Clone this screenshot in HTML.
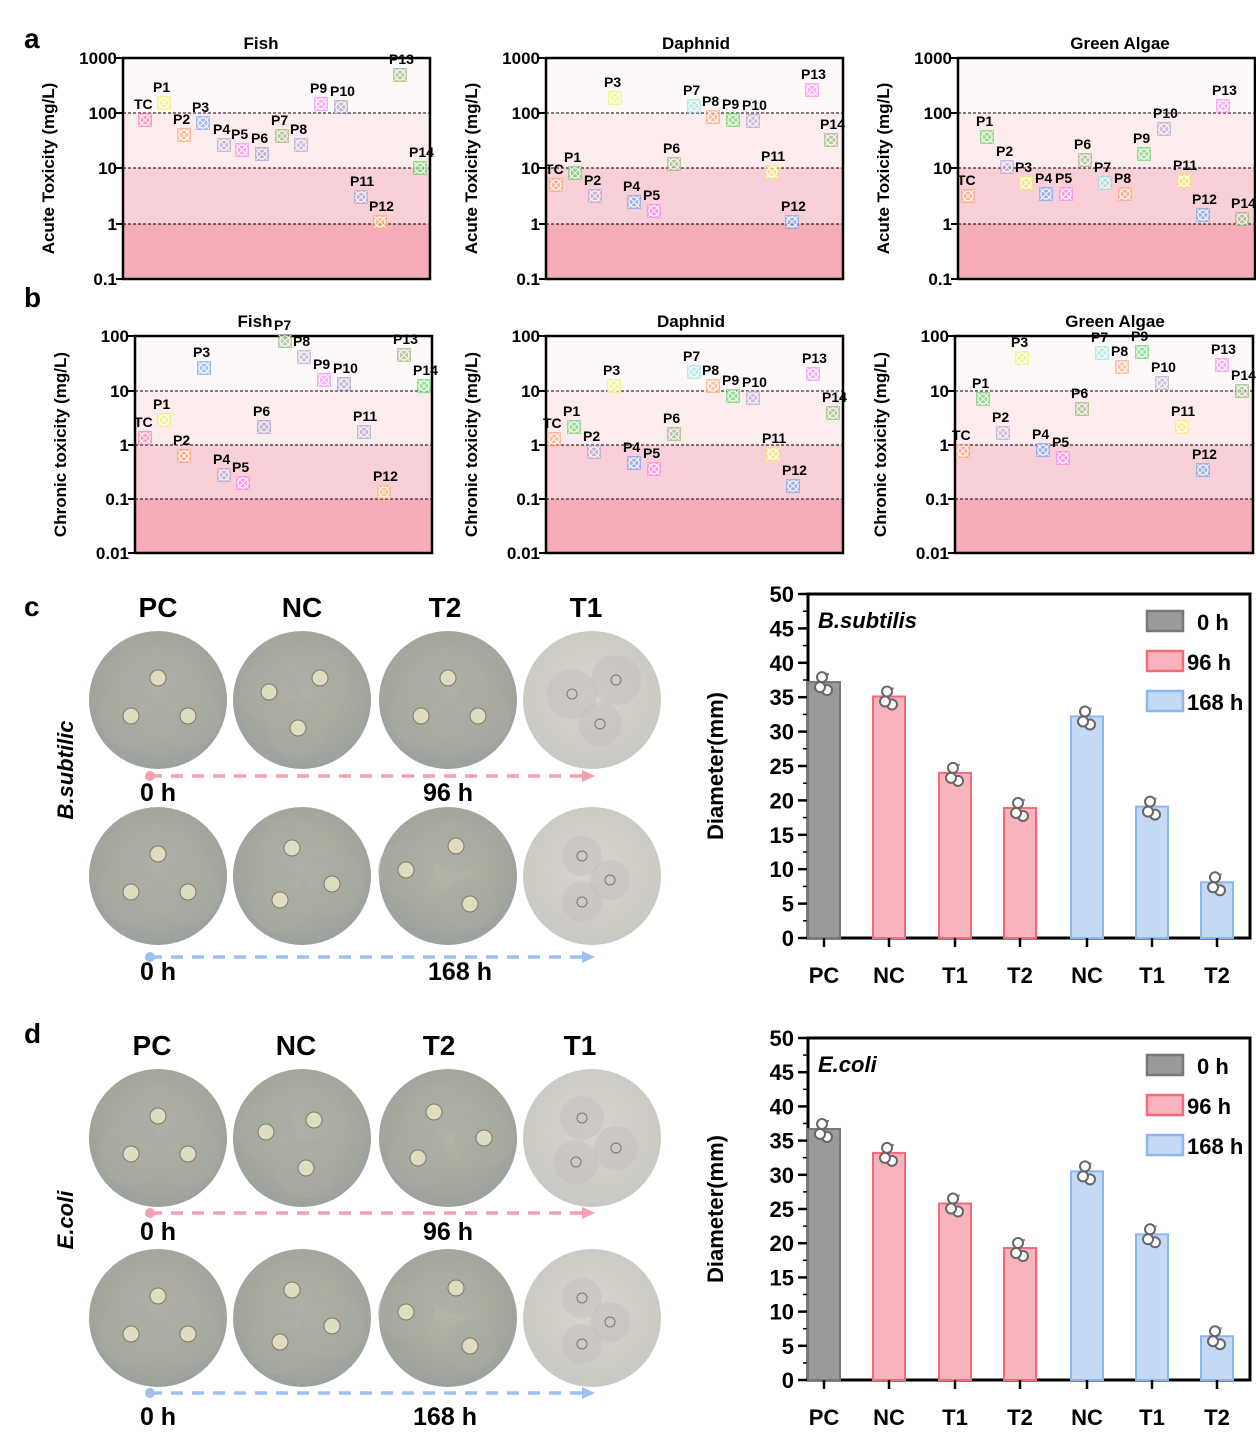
<!DOCTYPE html><html><head><meta charset="utf-8"><style>body{margin:0;background:#fff}svg{display:block;font-family:"Liberation Sans",sans-serif}</style></head><body>
<svg id="s" width="1256" height="1454" xmlns="http://www.w3.org/2000/svg">
<defs>
<radialGradient id="pg" cx="50%" cy="45%" r="55%"><stop offset="0" stop-color="#b4b5a8"/><stop offset="0.8" stop-color="#a3a69b"/><stop offset="1" stop-color="#9aa29e"/></radialGradient>
<radialGradient id="pl" cx="50%" cy="45%" r="55%"><stop offset="0" stop-color="#d8d4cc"/><stop offset="1" stop-color="#c9c8c2"/></radialGradient>
</defs>
</svg>
<script>
const S=document.getElementById('s');let h='';
const C={TC:'#f6a',P1:'#ee5',P2:'#f96',P3:'#69e',P4:'#a9c',P5:'#f7e',P6:'#98b',P7:'#8a6',P8:'#a9c',P9:'#f7e',P10:'#98b',P11:'#99c',P12:'#fa5',P13:'#8a6',P14:'#5c5'};
const CD={TC:'#f96',P1:'#5c5',P2:'#a9c',P3:'#ee5',P4:'#69e',P5:'#f7e',P6:'#8a6',P7:'#8dd',P8:'#f96',P9:'#5c5',P10:'#a9c',P11:'#ee5',P12:'#69e',P13:'#f7e',P14:'#8a6'};
const CG=CD;
const names=['TC','P1','P2','P3','P4','P5','P6','P7','P8','P9','P10','P11','P12','P13','P14'];
function T(x,y,t,s,a,extra){h+=`<text x="${x}" y="${y}" font-size="${s}" font-weight="bold" text-anchor="${a||'start'}" ${extra||''}>${t}</text>`;}
function panel(x0,x1,ys,labs,title,tx,ylab,pts,cols){
 const y0=ys[0],y1=ys[ys.length-1];
 const bc=['#fdf9f8','#fdecee','#f9d0d7','#f6adb9'];
 for(let i=0;i<4;i++)h+=`<rect x="${x0}" y="${ys[i]}" width="${x1-x0}" height="${ys[i+1]-ys[i]}" fill="${bc[i]}"/>`;
 for(let i=1;i<4;i++)h+=`<line x1="${x0}" x2="${x1}" y1="${ys[i]}" y2="${ys[i]}" stroke="#000" stroke-dasharray="3,2" stroke-width="1"/>`;
 h+=`<rect x="${x0}" y="${y0}" width="${x1-x0}" height="${y1-y0}" fill="none" stroke="#000" stroke-width="2.5"/>`;
 ys.forEach((y,i)=>{h+=`<line x1="${x0-7}" x2="${x0}" y1="${y}" y2="${y}" stroke="#000" stroke-width="2"/>`;T(x0-6,y+6,labs[i],17,'end');});
 T(tx,y0-9,title,17,'middle');
 const cy=(y0+y1)/2;T(0,0,ylab,17,'middle',`transform="translate(${x0-69},${cy}) rotate(-90)"`);
 pts.forEach((p,i)=>{const c=cols[names[i]];const [x,y]=p;
  h+=`<rect x="${x-7}" y="${y-7}" width="14" height="14" fill="${c}" opacity="0.6"/><circle cx="${x}" cy="${y}" r="5" fill="none" stroke="#fff" stroke-width="1.5" opacity="0.8"/><path d="M${x-6} ${y-6}L${x+6} ${y+6}M${x+6} ${y-6}L${x-6} ${y+6}" stroke="#fff" stroke-width="1.2" opacity="0.8"/>`;
  T(x-11,y-11,names[i],14,'start');});
}
const ya=[58,113,168,224,279],la=['1000','100','10','1','0.1'];
const yb=[336,391,445,499,553],lb=['100','10','1','0.1','0.01'];
panel(123,430,ya,la,'Fish',261,'Acute Toxicity (mg/L)',[[145,120],[164,103],[184,135],[203,123],[224,145],[242,150],[262,154],[282,136],[301,145],[321,104],[341,107],[361,197],[380,222],[400,75],[420,168]],C);
panel(546,843,ya,la,'Daphnid',696,'Acute Toxicity (mg/L)',[[556,185],[575,173],[595,196],[615,98],[634,202],[654,211],[674,164],[694,106],[713,117],[733,120],[753,121],[772,172],[792,222],[812,90],[831,140]],CD);
panel(958,1255,ya,la,'Green Algae',1120,'Acute Toxicity (mg/L)',[[968,196],[987,137],[1007,167],[1026,183],[1046,194],[1066,194],[1085,160],[1105,183],[1125,194],[1144,154],[1164,129],[1184,181],[1203,215],[1223,106],[1242,219]],CG);
panel(135,432,yb,lb,'Fish',255,'Chronic toxicity (mg/L)',[[145,438],[164,420],[184,456],[204,368],[224,475],[243,483],[264,427],[285,341],[304,357],[324,380],[344,384],[364,432],[384,492],[404,355],[424,386]],C);
panel(546,843,yb,lb,'Daphnid',691,'Chronic toxicity (mg/L)',[[554,439],[574,427],[594,452],[614,386],[634,463],[654,469],[674,434],[694,372],[713,386],[733,396],[753,398],[773,454],[793,486],[813,374],[833,413]],CD);
panel(955,1253,yb,lb,'Green Algae',1115,'Chronic toxicity (mg/L)',[[963,451],[983,399],[1003,433],[1022,358],[1043,450],[1063,458],[1082,409],[1102,353],[1122,367],[1142,352],[1162,383],[1182,427],[1203,470],[1222,365],[1242,391]],CG);
T(24,48,'a',28);T(24,307,'b',28);T(24,616,'c',28);T(24,1043,'d',28);
function plate(cx,cy,light,zones){h+=`<ellipse cx="${cx}" cy="${cy}" rx="69" ry="69" fill="url(#${light?'pl':'pg'})"/>`;
 zones.forEach(z=>{h+=`<circle cx="${cx+z[0]}" cy="${cy+z[1]}" r="${z[2]}" fill="${light?'#c4bfc0':'#a9aca2'}" opacity="0.55"/><circle cx="${cx+z[0]}" cy="${cy+z[1]}" r="${light?5:8}" fill="${light?'#cfcaca':'#e0dcc0'}" stroke="#7a7a6a" stroke-width="1"/>`});}
const zA=[[0,-22,30],[-27,16,32],[30,16,32]];
function rowPlates(y,zs){[158,302,448,592].forEach((x,i)=>plate(x,y,i==3,zs[i]));}
rowPlates(700,[zA,[[18,-22,30],[-33,-8,30],[-4,28,30]],zA,[[24,-20,25],[-20,-6,25],[8,24,22]]]);
rowPlates(876,[zA,[[-10,-28,30],[30,8,32],[-22,24,32]],[[8,-30,26],[-42,-6,28],[22,28,26]],[[-10,-20,20],[18,4,20],[-10,26,20]]]);
rowPlates(1138,[zA,[[12,-18,32],[-36,-6,30],[4,30,30]],[[-14,-26,28],[-30,20,30],[36,0,30]],[[-10,-20,22],[24,10,22],[-16,24,22]]]);
rowPlates(1318,[zA,[[-10,-28,30],[30,8,32],[-22,24,32]],[[8,-30,26],[-42,-6,28],[22,28,26]],[[-10,-20,20],[18,4,20],[-10,26,20]]]);
[['PC',158],['NC',302],['T2',445],['T1',586]].forEach(a=>{T(a[1],617,a[0],28,'middle');T(a[1]-6,1055,a[0],28,'middle');});
function arrow(y,c){h+=`<circle cx="150" cy="${y}" r="5" fill="${c}"/><line x1="150" x2="582" y1="${y}" y2="${y}" stroke="${c}" stroke-width="3.5" stroke-dasharray="12,9"/><path d="M582 ${y-6}L595 ${y}L582 ${y+6}Z" fill="${c}"/>`;}
arrow(776,'#f4a0b0');arrow(957,'#9fc0ee');arrow(1213,'#f4a0b0');arrow(1393,'#9fc0ee');
T(158,801,'0 h',25,'middle');T(448,801,'96 h',25,'middle');T(158,980,'0 h',25,'middle');T(460,980,'168 h',25,'middle');
T(158,1240,'0 h',25,'middle');T(448,1240,'96 h',25,'middle');T(158,1425,'0 h',25,'middle');T(445,1425,'168 h',25,'middle');
T(0,0,'B.subtilic',22,'middle','font-style="italic" transform="translate(73,770) rotate(-90)"');
T(0,0,'E.coli',22,'middle','font-style="italic" transform="translate(73,1220) rotate(-90)"');
function bars(y0,y50,vals,title){const x0=808,x1=1250,sc=(y0-y50)/50;
 h+=`<rect x="${x0}" y="${y50}" width="${x1-x0}" height="${y0-y50}" fill="none" stroke="#000" stroke-width="3"/>`;
 for(let v=0;v<=50;v+=5){const y=y0-v*sc;h+=`<line x1="${x0-10}" x2="${x0}" y1="${y}" y2="${y}" stroke="#000" stroke-width="2.5"/>`;T(x0-14,y+8,v,22,'end');
  if(v<50)h+=`<line x1="${x0-5}" x2="${x0}" y1="${y-2.5*sc}" y2="${y-2.5*sc}" stroke="#000" stroke-width="1.5"/>`;}
 T(0,0,'Diameter(mm)',22,'middle',`transform="translate(723,${(y0+y50)/2}) rotate(-90)"`);
 T(x0+10,y50+34,title,22,'start','font-style="italic"');
 const xs=[824,889,955,1020,1087,1152,1217],lab=['PC','NC','T1','T2','NC','T1','T2'];
 const fc=['#9a9a9a','#f7b3be','#f7b3be','#f7b3be','#c3d9f6','#c3d9f6','#c3d9f6'],sc2=['#777','#f56a78','#f56a78','#f56a78','#8cb6ee','#8cb6ee','#8cb6ee'];
 xs.forEach((x,i)=>{const v=vals[i],y=y0-v*sc;h+=`<rect x="${x-16}" y="${y}" width="32" height="${v*sc}" fill="${fc[i]}" stroke="${sc2[i]}" stroke-width="2"/>`;
  h+=`<line x1="${x}" x2="${x}" y1="${y}" y2="${y-8}" stroke="${sc2[i]}" stroke-width="2"/><line x1="${x-5}" x2="${x+5}" y1="${y-8}" y2="${y-8}" stroke="${sc2[i]}" stroke-width="2"/>`;
  [[-2,-5],[3,8],[-4,5]].forEach(o=>{h+=`<circle cx="${x+o[0]}" cy="${y+o[1]}" r="5" fill="#fff" stroke="#666" stroke-width="2"/>`;});
  h+=`<line x1="${x}" x2="${x}" y1="${y0}" y2="${y0+9}" stroke="#000" stroke-width="2.5"/>`;T(x,y0+45,lab[i],22,'middle');});
 const ly=[y50+27,y50+67,y50+107],lt=['0 h','96 h','168 h'],lf=[0,1,4];
 ly.forEach((y,i)=>{h+=`<rect x="1147" y="${y-10}" width="36" height="20" fill="${fc[lf[i]]}" stroke="${sc2[lf[i]]}" stroke-width="2.5"/>`;T(i==0?1197:1187,y+9,lt[i],22,'start');});
}
bars(938,594,[37.2,35.1,24,18.9,32.2,19.1,8.1],'B.subtilis');
bars(1380,1038,[36.7,33.2,25.8,19.3,30.5,21.3,6.4],'E.coli');
S.innerHTML+=h;
</script>
</body></html>
